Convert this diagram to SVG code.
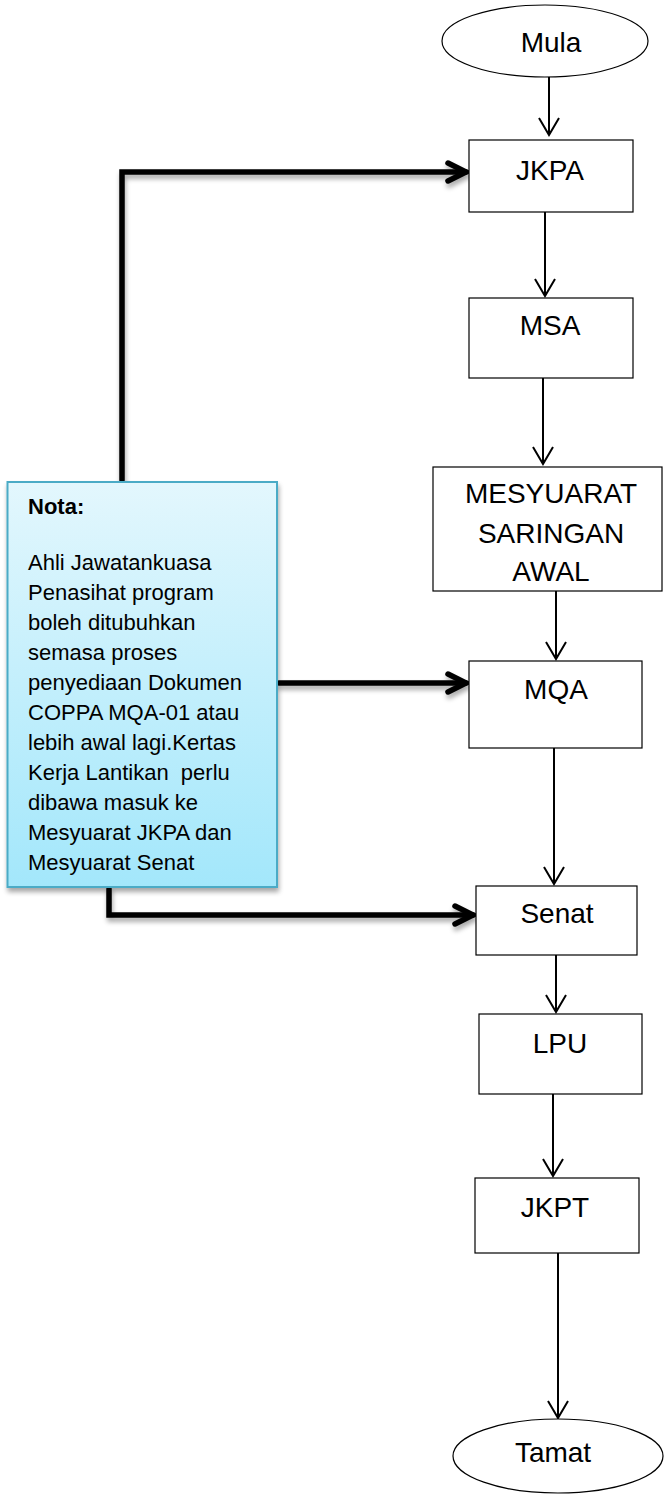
<svg xmlns="http://www.w3.org/2000/svg" width="665" height="1494" viewBox="0 0 665 1494">
<style>
.node{fill:#fff;stroke:#000;stroke-width:1.2}
.lbl{font-family:"Liberation Sans",Arial,sans-serif;font-size:28px;fill:#000;text-anchor:middle}
.note{font-family:"Liberation Sans",Arial,sans-serif;font-size:22px;fill:#000}
.thin{fill:none;stroke:#000;stroke-width:2}
.thick{fill:none;stroke:#000;stroke-width:5.5;stroke-linecap:round;stroke-linejoin:miter}
</style>
<defs>
<linearGradient id="ng" x1="0" y1="0" x2="0" y2="1">
<stop offset="0" stop-color="#e3f7fd"/>
<stop offset="1" stop-color="#a3e7fb"/>
</linearGradient>
<filter id="sh" x="-20%" y="-20%" width="140%" height="140%">
<feGaussianBlur in="SourceAlpha" stdDeviation="2.5"/>
<feOffset dx="1" dy="4" result="b"/>
<feComponentTransfer><feFuncA type="linear" slope="0.35"/></feComponentTransfer>
<feMerge><feMergeNode/><feMergeNode in="SourceGraphic"/></feMerge>
</filter>
</defs>
<rect width="665" height="1494" fill="#fff"/>

<g id="connectors">
<g class="thin">
<path d="M549,77 V135 M539,118 L549,135 L559,118"/>
<path d="M545,212 V296 M535,279 L545,296 L555,279"/>
<path d="M543,378 V464 M533,447 L543,464 L553,447"/>
<path d="M556,591 V659 M546,642 L556,659 L566,642"/>
<path d="M554,748 V884 M544,867 L554,884 L564,867"/>
<path d="M556,955 V1012 M546,995 L556,1012 L566,995"/>
<path d="M553,1094 V1176 M543,1159 L553,1176 L563,1159"/>
<path d="M558,1253 V1418 M548,1401 L558,1418 L568,1401"/>
</g>
<g class="thick" filter="url(#sh)">
<path d="M122,480 V172 H466"/>
<path d="M448,163 L466,172 L448,181"/>
<path d="M279,683 H466"/>
<path d="M448,674 L466,683 L448,692"/>
<path d="M109,889 V915 H473"/>
<path d="M455,906 L473,915 L455,924"/>
</g>
</g>

<g id="mula">
<ellipse cx="545" cy="41" rx="103" ry="36" class="node"/>
<text x="551" y="52" class="lbl">Mula</text>
</g>
<g id="jkpa">
<rect x="469" y="140" width="164" height="72" class="node"/>
<text x="550" y="180" class="lbl">JKPA</text>
</g>
<g id="msa">
<rect x="469" y="298" width="164" height="80" class="node"/>
<text x="550" y="335" class="lbl">MSA</text>
</g>
<g id="mesyuarat">
<rect x="433" y="467" width="229" height="124" class="node"/>
<text x="551" y="503" class="lbl">MESYUARAT</text>
<text x="551" y="543" class="lbl">SARINGAN</text>
<text x="551" y="581" class="lbl">AWAL</text>
</g>
<g id="mqa">
<rect x="469" y="661" width="173" height="87" class="node"/>
<text x="556" y="699" class="lbl">MQA</text>
</g>
<g id="senat">
<rect x="476" y="886" width="161" height="69" class="node"/>
<text x="557" y="923" class="lbl">Senat</text>
</g>
<g id="lpu">
<rect x="479" y="1014" width="163" height="80" class="node"/>
<text x="560" y="1053" class="lbl">LPU</text>
</g>
<g id="jkpt">
<rect x="475" y="1178" width="164" height="75" class="node"/>
<text x="555" y="1217" class="lbl">JKPT</text>
</g>
<g id="tamat">
<ellipse cx="558" cy="1456" rx="105" ry="37" class="node"/>
<text x="553" y="1462" class="lbl">Tamat</text>
</g>

<g id="nota">
<rect x="7.5" y="482" width="269.5" height="405" fill="url(#ng)" stroke="#4babc6" stroke-width="2" filter="url(#sh)"/>
<text class="note" x="28" y="514" font-weight="bold">Nota:</text>
<text class="note" x="28" y="570">Ahli Jawatankuasa</text>
<text class="note" x="28" y="600">Penasihat program</text>
<text class="note" x="28" y="630">boleh ditubuhkan</text>
<text class="note" x="28" y="660">semasa proses</text>
<text class="note" x="28" y="690">penyediaan Dokumen</text>
<text class="note" x="28" y="720">COPPA MQA-01 atau</text>
<text class="note" x="28" y="750">lebih awal lagi.Kertas</text>
<text class="note" x="28" y="780" xml:space="preserve">Kerja Lantikan  perlu</text>
<text class="note" x="28" y="810">dibawa masuk ke</text>
<text class="note" x="28" y="840">Mesyuarat JKPA dan</text>
<text class="note" x="28" y="870">Mesyuarat Senat</text>
</g>
</svg>
